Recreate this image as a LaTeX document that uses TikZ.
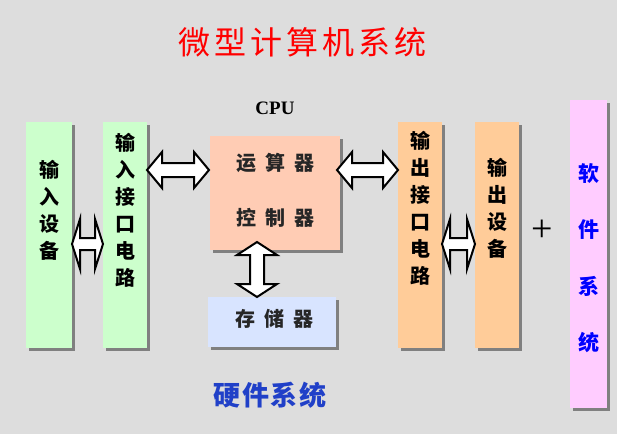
\documentclass[tikz,border=0pt]{standalone}
\usepackage{fontspec}
\newfontfamily\cjk{Noto Sans CJK SC}
\newfontfamily\ser{Liberation Serif}
\usetikzlibrary{calc,shadows}
\definecolor{bg}{RGB}{221,221,221}
\definecolor{greenc}{RGB}{204,255,204}
\definecolor{cpuc}{RGB}{255,204,180}
\definecolor{memc}{RGB}{216,228,255}
\definecolor{orangec}{RGB}{255,204,153}
\definecolor{pinkc}{RGB}{255,204,255}
\definecolor{shadowc}{RGB}{128,128,128}
\definecolor{hwblue}{RGB}{32,64,200}
\definecolor{swblue}{RGB}{0,0,255}
\newcommand{\HArr}[5]{%
 \draw[barrow] (#1) -- ($(#1)+(#5,-#3)$) -- ($(#1)+(#5,-#4)$) -- ($(#2)+(-#5,-#4)$) -- ($(#2)+(-#5,-#3)$) -- (#2) -- ($(#2)+(-#5,#3)$) -- ($(#2)+(-#5,#4)$) -- ($(#1)+(#5,#4)$) -- ($(#1)+(#5,#3)$) -- cycle;}
\newcommand{\VArr}[5]{%
 \draw[barrow] (#1) -- ($(#1)+(-#3,#5)$) -- ($(#1)+(-#4,#5)$) -- ($(#2)+(-#4,-#5)$) -- ($(#2)+(-#3,-#5)$) -- (#2) -- ($(#2)+(#3,-#5)$) -- ($(#2)+(#4,-#5)$) -- ($(#1)+(#4,#5)$) -- ($(#1)+(#3,#5)$) -- cycle;}
\newcommand{\gap}{\hspace{9pt}}
\begin{document}
\begin{tikzpicture}[x=1pt,y=-1pt,
  box/.style={draw=none,inner sep=0,outer sep=0,anchor=north west,
    drop shadow={shadow xshift=3pt,shadow yshift=-3pt,fill=shadowc,opacity=1}},
  vtext/.style={font=\cjk\bfseries\fontsize{20}{27}\selectfont,align=center,inner sep=0},
  ctext/.style={font=\cjk\bfseries\fontsize{20}{24}\selectfont,inner sep=0,text=black!85},
  barrow/.style={draw=black,fill=white,line width=2pt,line join=miter}]
\path[use as bounding box,fill=bg] (0,0) rectangle (617,434);
% boxes
\node[box,fill=greenc,minimum width=46,minimum height=226] (inDev) at (26,122) {};
\node[box,fill=greenc,minimum width=44,minimum height=226] (inIf) at (103,122) {};
\node[box,fill=cpuc,minimum width=130,minimum height=114] (cpu) at (210,136) {};
\node[box,fill=memc,minimum width=128,minimum height=50] (mem) at (208,297) {};
\node[box,fill=orangec,minimum width=44,minimum height=226] (outIf) at (398,122) {};
\node[box,fill=orangec,minimum width=44,minimum height=226] (outDev) at (475,122) {};
\node[box,fill=pinkc,minimum width=37,minimum height=308] (soft) at (570,100) {};
% texts
\node[font=\cjk\fontsize{32}{36}\selectfont,text=red,inner sep=0] (title) at (302,42)
  {微\hspace{4pt}型\hspace{4pt}计\hspace{4pt}算\hspace{4pt}机\hspace{4pt}系\hspace{4pt}统};
\node[font=\ser\bfseries\fontsize{19}{22}\selectfont,inner sep=0] (cpuLabel) at (275,108) {CPU};
\node[vtext] (tInDev) at (49,210) {输\\入\\设\\备};
\node[vtext] (tInIf) at (125,210) {输\\入\\接\\口\\电\\路};
\node[vtext] (tOutIf) at (420,208) {输\\出\\接\\口\\电\\路};
\node[vtext] (tOutDev) at (497,208) {输\\出\\设\\备};
\node[vtext,text=swblue,font=\cjk\bfseries\fontsize{21}{56.5}\selectfont] (tSoft) at (589,258) {软\\件\\系\\统};
\node[ctext] (tAlu) at (275,163) {运\gap 算\gap 器};
\node[ctext] (tCtl) at (275,218) {控\gap 制\gap 器};
\node[ctext] (tMem) at (274,319) {存\gap 储\gap 器};
\node[font=\ser\fontsize{38}{40}\selectfont,inner sep=0] (plus) at (542,231) {+};
\node[font=\cjk\bfseries\fontsize{27}{30}\selectfont,text=hwblue,inner sep=0] (hw) at (270,395)
  {硬\hspace{1.5pt}件\hspace{1.5pt}系\hspace{1.5pt}统};
% arrows
\coordinate (yA) at (0,244);
\coordinate (yB) at (0,170);
\coordinate (xV) at (257,0);
\coordinate (a1l) at (inDev.east |- yA);
\coordinate (a1r) at (inIf.west |- yA);
\HArr{a1l}{a1r}{25}{6}{8}
\coordinate (a2l) at (inIf.east |- yB);
\coordinate (a2r) at ($(cpu.west |- yB)+(-1,0)$);
\HArr{a2l}{a2r}{18}{7}{15}
\coordinate (a3l) at ($(cpu.east |- yB)+(-3,0)$);
\coordinate (a3r) at (outIf.west |- yB);
\HArr{a3l}{a3r}{18}{7}{15}
\coordinate (a5l) at (outIf.east |- yA);
\coordinate (a5r) at (outDev.west |- yA);
\HArr{a5l}{a5r}{25}{6}{8}
\coordinate (vt) at ($(xV |- cpu.south)+(0,-8)$);
\coordinate (vb) at (xV |- mem.north);
\VArr{vt}{vb}{20}{7}{13}
\end{tikzpicture}
\end{document}
